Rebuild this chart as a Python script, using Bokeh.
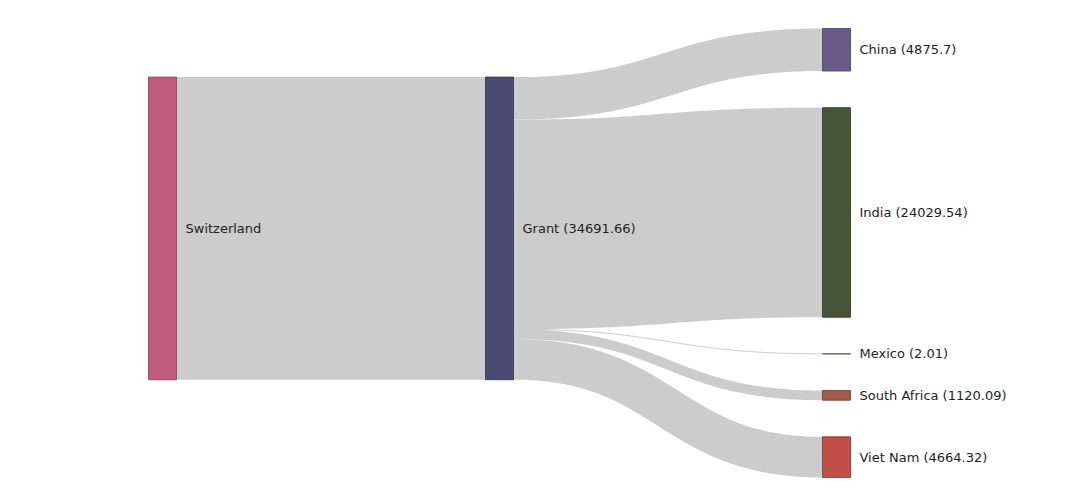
import numpy as np
from bokeh.plotting import figure
from bokeh.models import Range1d, ColumnDataSource
from bokeh.embed import file_html
from bokeh.resources import INLINE
from bokeh.core.properties import value

# ---- data ----
source_name = "Switzerland"
middle_name = "Grant"
targets = ["China", "India", "Mexico", "South Africa", "Viet Nam"]
target_values = [4875.7, 24029.54, 2.01, 1120.09, 4664.32]
source_color = "#c05c7e"
middle_color = "#4b4b76"
target_colors = ["#695c88", "#465537", "#9a6a50", "#a15a46", "#c04f48"]
link_color = "#cccccc"

# ---- layout parameters ----
W, H = 1070, 504
col_x = [148, 485, 822]
node_w = 28
top, bottom = 28, 477
pad = 36.6

total = sum(target_values)
ky = (bottom - top - pad * (len(targets) - 1)) / total

# target column positions
t_y0, t_y1 = [], []
y = top
for v in target_values:
    t_y0.append(y)
    t_y1.append(y + v * ky)
    y += v * ky + pad
t_c = [(a + b) / 2 for a, b in zip(t_y0, t_y1)]
# middle / source centered on value-weighted centre of targets
centre = sum(v * c for v, c in zip(target_values, t_c)) / total
m_y0 = centre - total * ky / 2
m_y1 = centre + total * ky / 2


def darker(hexc, f=0.72):
    h = hexc.lstrip("#")
    r, g, b = (int(h[i:i + 2], 16) for i in (0, 2, 4))
    return "#%02x%02x%02x" % (int(r * f), int(g * f), int(b * f))


p = figure(width=W, height=H, x_range=Range1d(0, W), y_range=Range1d(H, 0),
           output_backend="svg", toolbar_location=None, min_border=0)
p.axis.visible = False
p.grid.visible = False
p.outline_line_color = None
p.background_fill_color = "white"
p.border_fill_color = "white"

# ---- links ----
t = np.linspace(0, 1, 80)


def bez(x0, y0, x1, y1):
    xm = (x0 + x1) / 2
    xs = (1 - t) ** 3 * x0 + 3 * (1 - t) ** 2 * t * xm + 3 * (1 - t) * t ** 2 * xm + t ** 3 * x1
    ys = (1 - t) ** 3 * y0 + 3 * (1 - t) ** 2 * t * y0 + 3 * (1 - t) * t ** 2 * y1 + t ** 3 * y1
    return list(xs), list(ys)


lxs, lys, lws = [], [], []
# source -> middle
xs, ys = bez(col_x[0] + node_w, (m_y0 + m_y1) / 2, col_x[1], (m_y0 + m_y1) / 2)
lxs.append(xs); lys.append(ys); lws.append(total * ky)
# middle -> targets
yy = m_y0
for i, v in enumerate(target_values):
    w = v * ky
    xs, ys = bez(col_x[1] + node_w, yy + w / 2, col_x[2], t_c[i])
    lxs.append(xs); lys.append(ys); lws.append(max(1.0, w))
    yy += w
p.multi_line(xs="xs", ys="ys", line_width="lw", line_color=link_color,
             source=ColumnDataSource(dict(xs=lxs, ys=lys, lw=lws)))

# ---- nodes ----
names = [source_name, middle_name] + targets
colors = [source_color, middle_color] + target_colors
left = [col_x[0], col_x[1]] + [col_x[2]] * len(targets)
y0s = [m_y0, m_y0] + t_y0
y1s = [m_y1, m_y1] + t_y1
p.quad(left=left, right=[l + node_w for l in left], top=y0s, bottom=y1s,
       fill_color=colors, line_color=[darker(c) for c in colors], line_width=1,
       line_alpha=0.85)

labels = [source_name, "%s (%s)" % (middle_name, round(total, 2))] + \
         ["%s (%s)" % (n, v) for n, v in zip(targets, target_values)]
p.text(x=[l + node_w + 9 for l in left], y=[(a + b) / 2 for a, b in zip(y0s, y1s)],
       text=labels, text_font=value("DejaVu Sans"), text_font_size="13px",
       text_baseline="middle", text_align="left", text_color="#1e1e1e")

open("out.html", "w").write(file_html(p, INLINE))
